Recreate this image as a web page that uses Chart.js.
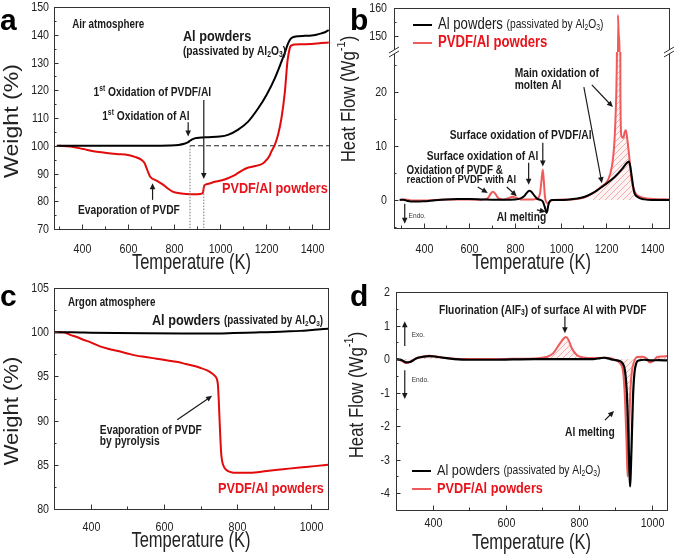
<!DOCTYPE html>
<html><head><meta charset="utf-8">
<script src="https://cdn.jsdelivr.net/npm/chart.js@4.4.1/dist/chart.umd.min.js"></script>
<style>
html,body{margin:0;padding:0;background:#fff;}
#wrap{position:relative;width:675px;height:557px;overflow:hidden;background:#fff;}
canvas{position:absolute;}
</style></head><body>
<div id="wrap">
<canvas id="ca" width="337" height="278" style="left:0;top:0"></canvas>
<canvas id="cb" width="338" height="278" style="left:337px;top:0"></canvas>
<canvas id="cc" width="337" height="279" style="left:0;top:278px"></canvas>
<canvas id="cd" width="338" height="279" style="left:337px;top:278px"></canvas>
</div>
<script>
// ---------- DATA ----------
// (a) TGA in air
const tempA_Al = [290, 400, 500, 600, 700, 780, 820, 845, 860, 872, 885, 900, 920, 950, 1000, 1035, 1078, 1123, 1167, 1203, 1239, 1268, 1285, 1294, 1304, 1312, 1325, 1341, 1370, 1399, 1420, 1442, 1460, 1474];
const weightA_Al = [100, 100, 100, 100, 100, 100.1, 100.3, 100.7, 101.2, 101.9, 102.5, 102.8, 103.0, 103.1, 103.3, 103.9, 105.7, 108.7, 113.5, 118.3, 124.3, 130.3, 134.0, 136.3, 138.0, 138.8, 139.3, 139.5, 139.6, 139.7, 140.0, 140.5, 141.0, 141.7];
const tempA_PVDF = [295, 350, 406, 450, 500, 551, 600, 630, 659, 672, 681, 690, 696, 705, 717, 735, 754, 775, 797, 826, 855, 884, 913, 926, 930, 935, 950, 978, 1005, 1035, 1060, 1078, 1100, 1116, 1145, 1174, 1190, 1203, 1215, 1224, 1239, 1253, 1268, 1283, 1294, 1300, 1306, 1315, 1326, 1360, 1399, 1440, 1474];
const weightA_PVDF = [100, 99.7, 98.8, 98.0, 97.5, 97.0, 96.7, 96.0, 94.9, 93.8, 91.9, 90.0, 88.9, 88.2, 87.7, 86.9, 85.9, 84.5, 83.4, 82.9, 82.6, 82.5, 82.6, 83.0, 85.0, 85.9, 86.3, 87.0, 87.5, 88.3, 89.2, 90.1, 91.2, 91.9, 92.5, 93.1, 93.8, 94.9, 96.2, 97.9, 100.3, 103.9, 109.9, 119.5, 130.3, 133.5, 135.6, 136.3, 136.5, 136.6, 136.7, 137.0, 137.2];
const refLineA_T = [870, 1475];
const refLineA_W = [100, 100];
const xLabelsA = [400, 600, 800, 1000, 1200, 1400];
const yLabelsA = [70, 80, 90, 100, 110, 120, 130, 140, 150];

// (b) DSC in air
const tempB_Al = [295, 310, 330, 360, 400, 450, 500, 550, 600, 650, 700, 750, 800, 825, 840, 852, 862, 872, 885, 898, 912, 922, 930, 935, 938, 942, 946, 952, 962, 1000, 1030, 1062, 1106, 1150, 1194, 1238, 1267, 1289, 1299, 1305, 1311, 1322, 1339, 1368, 1400, 1475];
const heatB_Al = [0, 0.05, -0.2, -0.3, -0.25, -0.05, 0.1, 0.15, 0.15, 0.1, 0.05, 0.05, 0.1, 0.3, 0.7, 1.3, 1.7, 1.5, 0.8, 0.2, 0.0, -0.3, -1.2, -2.0, -2.4, -2.0, -1.0, -0.3, 0, 0, 0.05, 0.2, 0.6, 1.5, 2.8, 4.3, 5.6, 6.8, 7.1, 6.3, 4.6, 1.5, 0.5, 0.1, 0, 0];
const tempB_PVDF = [295, 320, 350, 400, 450, 500, 600, 650, 680, 693, 703, 713, 728, 750, 770, 789, 805, 825, 850, 880, 900, 910, 916, 922, 927, 931, 936, 945, 955, 970, 1050, 1100, 1140, 1179, 1208, 1226, 1235, 1241, 1245, 1248, 1251, 1255, 1259, 1262, 1266, 1275, 1281, 1286, 1291, 1303, 1310, 1325, 1347, 1395, 1475];
const heatB_PVDF = [0, 0.1, -0.1, -0.1, 0.0, 0.1, 0.1, 0.05, 0.3, 1.1, 1.5, 1.2, 0.3, 0.1, 0.3, 0.6, 0.4, 0.1, 0.1, 0.1, 0.3, 1.2, 3.5, 5.6, 3.2, 0.8, -0.3, -0.6, -0.2, 0, 0.1, 0.4, 1.2, 2.5, 3.7, 6.5, 10.2, 15.7, 22, 40, 157.5, 150, 140, 20, 12, 11.5, 12.6, 12.9, 11.7, 7.1, 4.0, 1.5, 0.6, 0.2, 0.1];
const hatchRangeB = [1130, 1340];
const xLabelsB = [400, 600, 800, 1000, 1200, 1400];
const yLabelsBLow = [0, 10, 20];
const yLabelsBHigh = [150, 160];

// (c) TGA in argon
const tempC_Al = [300, 350, 400, 471, 550, 652, 720, 789, 850, 880, 930, 971, 1010, 1048];
const weightC_Al = [100, 100, 99.95, 99.9, 99.87, 99.85, 99.85, 99.9, 99.97, 100, 100.08, 100.15, 100.28, 100.4];
const tempC_PVDF = [300, 316, 330, 344, 362, 380, 400, 425, 450, 471, 500, 525, 550, 580, 610, 634, 660, 680, 700, 716, 727, 734, 740, 744, 747, 750, 753, 756, 759, 763, 770, 780, 790, 834, 880, 925, 970, 1010, 1048];
const weightC_PVDF = [100, 100, 99.95, 99.7, 99.45, 99.15, 98.85, 98.4, 98.1, 97.9, 97.6, 97.35, 97.2, 97.0, 96.8, 96.65, 96.4, 96.2, 95.95, 95.7, 95.45, 95.25, 95.0, 94.7, 94.0, 91.5, 88.5, 86.2, 85.3, 84.8, 84.4, 84.2, 84.1, 84.1, 84.3, 84.5, 84.7, 84.85, 85.0];
const xLabelsC = [400, 600, 800, 1000];
const yLabelsC = [80, 85, 90, 95, 100, 105];

// (d) DSC in argon
const tempD_Al = [300, 315, 328, 340, 355, 370, 392, 410, 429, 460, 500, 560, 620, 680, 740, 800, 840, 860, 870, 880, 895, 910, 920, 927, 932, 936, 939, 941, 943, 946, 949, 953, 958, 965, 980, 1000, 1020, 1042];
const heatD_Al = [0, -0.03, -0.1, -0.08, 0.02, 0.06, 0.09, 0.07, 0.04, 0.0, -0.02, -0.02, -0.01, 0, 0, 0, 0, 0.03, 0.04, 0.02, -0.02, -0.05, -0.12, -0.35, -1.0, -2.2, -3.3, -3.8, -3.3, -2.2, -1.1, -0.4, -0.12, -0.04, -0.02, -0.04, -0.03, -0.04];
const tempD_PVDF = [300, 315, 328, 340, 355, 370, 392, 410, 429, 460, 500, 560, 620, 680, 700, 712, 730, 749, 758, 765, 772, 781, 795, 813, 840, 870, 890, 905, 915, 922, 927, 931, 934, 936, 939, 942, 946, 952, 960, 975, 985, 995, 1005, 1015, 1030, 1042];
const heatD_PVDF = [0, -0.05, -0.12, -0.08, 0.02, 0.07, 0.1, 0.08, 0.04, 0.01, 0, 0, 0.01, 0.02, 0.04, 0.06, 0.17, 0.47, 0.6, 0.66, 0.58, 0.33, 0.12, 0.05, 0.03, 0.04, 0.02, -0.05, -0.15, -0.4, -1.2, -2.4, -3.5, -3.0, -1.8, -0.9, -0.35, -0.08, 0.06, 0.07, 0.03, -0.1, -0.05, 0.06, 0.08, 0.09];
const xLabelsD = [400, 600, 800, 1000];
const yLabelsD = [-4, -3, -2, -1, 0, 1, 2];

// ---------- STYLE ----------
const SANS = "'Liberation Sans',Arial,sans-serif";
const COND = 0.82;               // horizontal condensing of the figure's text
const RED_A = '#e20a0a';
const RED_B = '#ef5a5a';
const RED_TXT = '#e8141c';
const INK = '#1a1a1a';

const pts = (xs, ys) => xs.map((x, i) => ({x, y: ys[i]}));
const P = (t, size, weight, color, sx, fam) => ({t, size, weight: weight || 'normal', color: color || INK, sx: sx === undefined ? COND : sx, fam: fam || SANS});

function hatch(color) {
  const c = document.createElement('canvas'); c.width = 6; c.height = 6;
  const g = c.getContext('2d');
  g.fillStyle = 'rgba(248,200,200,0.22)'; g.fillRect(0, 0, 6, 6);
  g.strokeStyle = color; g.lineWidth = 1;
  g.beginPath();
  g.moveTo(0, 6); g.lineTo(6, 0);
  g.moveTo(-1, 1); g.lineTo(1, -1);
  g.moveTo(5, 7); g.lineTo(7, 5);
  g.stroke();
  return g.createPattern(c, 'repeat');
}

function parseRich(t) {
  const out = []; const re = /([\^_])\{([^}]*)\}/g; let last = 0, m;
  while ((m = re.exec(t))) {
    if (m.index > last) out.push({s: t.slice(last, m.index), mode: 0});
    out.push({s: m[2], mode: m[1] === '^' ? 1 : -1});
    last = re.lastIndex;
  }
  if (last < t.length) out.push({s: t.slice(last), mode: 0});
  return out;
}
function drawRich(ctx, x, y, parts, align, baseline) {
  const pieces = []; let total = 0;
  for (const p of parts) {
    for (const r of parseRich(p.t)) {
      const size = r.mode ? p.size * 0.66 : p.size;
      const font = `${p.weight} ${size}px ${p.fam}`;
      ctx.font = font;
      const w = ctx.measureText(r.s).width * p.sx;
      pieces.push({s: r.s, font, w, sx: p.sx, dy: r.mode === 1 ? -p.size * 0.36 : (r.mode === -1 ? p.size * 0.24 : 0), color: p.color});
      total += w;
    }
  }
  let cx = align === 'center' ? x - total / 2 : (align === 'right' ? x - total : x);
  ctx.textAlign = 'left'; ctx.textBaseline = baseline || 'middle';
  for (const pc of pieces) {
    ctx.save(); ctx.translate(cx, y + pc.dy); ctx.scale(pc.sx, 1);
    ctx.font = pc.font; ctx.fillStyle = pc.color; ctx.fillText(pc.s, 0, 0);
    ctx.restore();
    cx += pc.w;
  }
}
function arrow(ctx, x1, y1, x2, y2, color) {
  const ang = Math.atan2(y2 - y1, x2 - x1), L = 6, W = 2.8;
  ctx.strokeStyle = color; ctx.fillStyle = color; ctx.lineWidth = 1.2; ctx.setLineDash([]);
  ctx.beginPath(); ctx.moveTo(x1, y1); ctx.lineTo(x2 - L * 0.7 * Math.cos(ang), y2 - L * 0.7 * Math.sin(ang)); ctx.stroke();
  ctx.beginPath(); ctx.moveTo(x2, y2);
  ctx.lineTo(x2 - L * Math.cos(ang) + W * Math.sin(ang), y2 - L * Math.sin(ang) - W * Math.cos(ang));
  ctx.lineTo(x2 - L * Math.cos(ang) - W * Math.sin(ang), y2 - L * Math.sin(ang) + W * Math.cos(ang));
  ctx.closePath(); ctx.fill();
}
const near = (list, v) => list.find(l => Math.abs(l - v) < 1e-6);

function makeDecor(spec) {
  return {
    id: 'decor',
    beforeDatasetDraw(chart, args) {
      if (!spec.axisClip) return;
      const ys = chart.scales[args.meta.yAxisID]; const a = chart.chartArea; const ctx = chart.ctx;
      ctx.save(); ctx.beginPath(); ctx.rect(a.left, ys.top, a.right - a.left, ys.bottom - ys.top); ctx.clip();
    },
    afterDatasetDraw(chart) { if (spec.axisClip) chart.ctx.restore(); },
    afterDraw(chart) {
      const ctx = chart.ctx, a = chart.chartArea;
      ctx.save();
      // inward ticks + tick labels
      ctx.strokeStyle = '#333'; ctx.lineWidth = 1; ctx.setLineDash([]);
      ctx.beginPath();
      const labelsToDraw = [];
      for (const id of Object.keys(spec.axes)) {
        const s = chart.scales[id], ax = spec.axes[id];
        for (const t of s.ticks) {
          const lab = near(ax.labels, t.value);
          const len = lab !== undefined ? 4.5 : 2.5;
          if (s.axis === 'x') {
            const px = Math.round(s.getPixelForValue(t.value)) + 0.5;
            ctx.moveTo(px, a.bottom); ctx.lineTo(px, a.bottom - len);
            if (lab !== undefined) labelsToDraw.push([px, a.bottom + ax.off, String(lab), 'center']);
          } else {
            const py = Math.round(s.getPixelForValue(t.value)) + 0.5;
            ctx.moveTo(a.left, py); ctx.lineTo(a.left + len, py);
            if (lab !== undefined) labelsToDraw.push([a.left - ax.pad, py, String(lab), 'right']);
          }
        }
      }
      ctx.stroke();
      for (const [x, y, s, al] of labelsToDraw) drawRich(ctx, x, y, [P(s, 13, 'normal', '#222')], al);
      // frame
      ctx.strokeStyle = '#333';
      ctx.strokeRect(Math.round(a.left) + 0.5, Math.round(a.top) + 0.5, Math.round(a.right - a.left), Math.round(a.bottom - a.top));
      // axis break
      if (spec.breakScale) {
        const y = chart.scales[spec.breakScale].top;
        for (const x of [a.left, a.right]) {
          ctx.fillStyle = '#fff';
          ctx.beginPath(); ctx.moveTo(x - 5, y + 1); ctx.lineTo(x + 5, y - 5); ctx.lineTo(x + 5, y - 1); ctx.lineTo(x - 5, y + 5); ctx.closePath(); ctx.fill();
          ctx.beginPath();
          ctx.moveTo(x - 5, y + 1); ctx.lineTo(x + 5, y - 5);
          ctx.moveTo(x - 5, y + 5); ctx.lineTo(x + 5, y - 1);
          ctx.strokeStyle = '#333'; ctx.stroke();
        }
      }
      const xs = chart.scales.x;
      const toPx = (x, y, axis) => [xs.getPixelForValue(x), chart.scales[axis || 'y'].getPixelForValue(y)];
      for (const g of (spec.guides || [])) {
        const [x1, y1] = toPx(g.x1, g.y1, g.axis), [x2, y2] = toPx(g.x2, g.y2, g.axis);
        ctx.strokeStyle = g.color || '#777'; ctx.lineWidth = g.width || 1; ctx.setLineDash(g.dash || [1.5, 1.5]);
        ctx.beginPath(); ctx.moveTo(x1, y1); ctx.lineTo(x2, y2); ctx.stroke();
      }
      ctx.setLineDash([]);
      for (const ar of (spec.arrows || [])) {
        const [x1, y1] = toPx(ar.x1, ar.y1, ar.axis), [x2, y2] = toPx(ar.x2, ar.y2, ar.axis);
        arrow(ctx, x1, y1, x2, y2, ar.color || INK);
      }
      for (const t of (spec.texts || [])) {
        const [x, y] = toPx(t.x, t.y, t.axis);
        drawRich(ctx, x, y, t.parts, t.align || 'left');
      }
      for (const lg of (spec.legend || [])) {
        ctx.strokeStyle = lg.color; ctx.lineWidth = 2; ctx.setLineDash([]);
        ctx.beginPath(); ctx.moveTo(lg.px, lg.py); ctx.lineTo(lg.px + 19, lg.py); ctx.stroke();
        drawRich(ctx, lg.px + 25, lg.py, lg.parts, 'left');
      }
      // x title, centred on the plot area
      if (spec.xTitle) drawRich(ctx, (a.left + a.right) / 2, spec.xTitle.py, [P(spec.xTitle.text, 22, 'normal', '#222', 0.75)], 'center');
      for (const t of (spec.pxTexts || [])) {
        if (t.rotate) {
          ctx.save(); ctx.translate(t.px, t.py); ctx.rotate(-Math.PI / 2);
          drawRich(ctx, 0, 0, t.parts, 'center'); ctx.restore();
        } else drawRich(ctx, t.px, t.py, t.parts, t.align || 'left', t.baseline);
      }
      ctx.restore();
    }
  };
}

function axis(o) {
  return {
    type: 'linear', position: o.pos, min: o.min, max: o.max,
    stack: o.stack, stackWeight: o.stackWeight,
    grid: {display: false, drawTicks: false},
    border: {display: false},
    ticks: {display: false},
    afterBuildTicks: s => {
      const out = []; const lo = o.tmin !== undefined ? o.tmin : o.min;
      for (let k = Math.ceil(lo / o.step - 1e-9); k * o.step <= o.max + 1e-9; k++) out.push({value: Math.round(k * o.step * 1e6) / 1e6});
      s.ticks = out;
    },
    afterFit: s => { if (o.pos === 'bottom') s.height = o.fit; else s.width = o.fit; },
    title: {display: false}
  };
}
function baseOptions(padding, scales) {
  return {
    responsive: false, animation: false, events: [],
    layout: {padding},
    elements: {point: {radius: 0}, line: {cubicInterpolationMode: 'monotone', borderJoinStyle: 'round'}},
    plugins: {legend: {display: false}, tooltip: {enabled: false}, title: {display: false}},
    scales
  };
}
const HATCH_LINE = 'rgba(236,125,125,0.6)';

// ---------- (a) ----------
new Chart(document.getElementById('ca'), {
  type: 'line',
  data: {datasets: [
    {data: pts(tempA_Al, weightA_Al), borderColor: '#000', borderWidth: 2, fill: false},
    {data: pts(tempA_PVDF, weightA_PVDF), borderColor: RED_A, borderWidth: 2, fill: false},
    {data: pts(refLineA_T, refLineA_W), borderColor: '#222', borderWidth: 1.1, borderDash: [5, 3], fill: false, cubicInterpolationMode: 'default', tension: 0}
  ]},
  options: baseOptions({left: 0, top: 7, right: 8, bottom: 0}, {
    x: axis({pos: 'bottom', min: 278, max: 1475, step: 100, fit: 49}),
    y: axis({pos: 'left', min: 70, max: 150, step: 5, fit: 54})
  }),
  plugins: [makeDecor({
    axes: {x: {labels: xLabelsA, off: 20.5}, y: {labels: yLabelsA, pad: 5}},
    xTitle: {text: 'Temperature (K)', py: 263},
    guides: [{x1: 870, y1: 100, x2: 870, y2: 70}, {x1: 930, y1: 86, x2: 930, y2: 70}],
    arrows: [{x1: 862, y1: 108.5, x2: 862, y2: 103.3}, {x1: 930, y1: 116.5, x2: 930, y2: 88.0}, {x1: 707, y1: 80.5, x2: 707, y2: 86.5}],
    texts: [
      {x: 357, y: 143.5, parts: [P('Air atmosphere', 12, 'bold')]},
      {x: 839, y: 139.2, parts: [P('Al powders', 15.5, 'bold')]},
      {x: 839, y: 133.8, parts: [P('(passivated by Al_{2}O_{3})', 12.5, 'bold')]},
      {x: 706, y: 119, align: 'center', parts: [P('1^{st} Oxidation of PVDF/Al', 12.5, 'bold')]},
      {x: 678, y: 110.4, align: 'center', parts: [P('1^{st} Oxidation of Al', 12.5, 'bold')]},
      {x: 604, y: 76.8, align: 'center', parts: [P('Evaporation of PVDF', 12.5, 'bold')]},
      {x: 1009, y: 84.4, parts: [P('PVDF/Al powders', 15.5, 'bold', RED_TXT)]}
    ],
    pxTexts: [
      {px: 0, py: 30, baseline: 'alphabetic', parts: [P('a', 30, 'bold', '#000', 1)]},
      {px: 12, py: 121, rotate: true, parts: [P('Weight (%)', 21, 'normal', '#222', 1.1)]}
    ]
  })]
});

// ---------- (b) ----------
const redB = pts(tempB_PVDF, heatB_PVDF);
new Chart(document.getElementById('cb'), {
  type: 'line',
  data: {datasets: [
    {data: pts(tempB_Al, heatB_Al), borderColor: '#000', borderWidth: 2, fill: false, yAxisID: 'y'},
    {data: redB, borderColor: RED_B, borderWidth: 2, fill: false, yAxisID: 'y'},
    {data: redB, borderColor: RED_B, borderWidth: 2, fill: false, yAxisID: 'y2'},
    {data: redB.filter(p => p.x >= hatchRangeB[0] && p.x <= hatchRangeB[1]), borderWidth: 0, borderColor: 'rgba(0,0,0,0)', backgroundColor: hatch(HATCH_LINE), fill: 'origin', yAxisID: 'y'}
  ]},
  options: baseOptions({left: 0, top: 8, right: 6, bottom: 0}, {
    x: axis({pos: 'bottom', min: 270, max: 1475, step: 100, fit: 50}),
    y: axis({pos: 'left', min: -5.2, max: 27.4, step: 5, fit: 57, stack: 'hf', stackWeight: 4}),
    y2: axis({pos: 'left', min: 144, max: 160, step: 5, tmin: 150, fit: 57, stack: 'hf', stackWeight: 1})
  }),
  plugins: [makeDecor({
    axisClip: true, breakScale: 'y',
    axes: {x: {labels: xLabelsB, off: 21}, y: {labels: yLabelsBLow, pad: 7}, y2: {labels: yLabelsBHigh, pad: 7}},
    xTitle: {text: 'Temperature (K)', py: 263},
    arrows: [
      {x1: 1137, y1: 21.3, x2: 1229, y2: 17.2}, {x1: 1102, y1: 20.9, x2: 1181, y2: 3.1},
      {x1: 922, y1: 10.6, x2: 922, y2: 6.2}, {x1: 860, y1: 6.9, x2: 860, y2: 2.8},
      {x1: 637, y1: 2.4, x2: 681, y2: 1.3}, {x1: 764, y1: 2.4, x2: 808, y2: 0.7},
      {x1: 896, y1: -1.85, x2: 935, y2: -2.2}, {x1: 317, y1: -0.7, x2: 317, y2: -4.4}
    ],
    texts: [
      {x: 799, y: 23.5, parts: [P('Main oxidation of', 12.5, 'bold')]},
      {x: 799, y: 21.1, parts: [P('molten Al', 12.5, 'bold')]},
      {x: 514, y: 12.0, parts: [P('Surface oxidation of PVDF/Al', 12.5, 'bold')]},
      {x: 413, y: 8.1, parts: [P('Surface oxidation of Al', 12.5, 'bold')]},
      {x: 325, y: 5.4, parts: [P('Oxidation of PVDF &', 12, 'bold')]},
      {x: 325, y: 3.7, parts: [P('reaction of PVDF with Al', 11.5, 'bold')]},
      {x: 720, y: -3.3, parts: [P('Al melting', 12.5, 'bold')]},
      {x: 334, y: -3.0, parts: [P('Endo.', 8, 'normal', '#333')]}
    ],
    legend: [
      {px: 76, py: 25, color: '#000', parts: [P('Al powders ', 16, 'normal'), P('(passivated by Al_{2}O_{3})', 12.5, 'normal')]},
      {px: 76, py: 43, color: RED_B, parts: [P('PVDF/Al powders', 16, 'bold', RED_TXT)]}
    ],
    pxTexts: [
      {px: 13, py: 30, baseline: 'alphabetic', parts: [P('b', 30, 'bold', '#000', 1)]},
      {px: 12, py: 99, rotate: true, parts: [P('Heat Flow (Wg^{-1})', 20, 'normal', '#222', 0.84)]}
    ]
  })]
});

// ---------- (c) ----------
new Chart(document.getElementById('cc'), {
  type: 'line',
  data: {datasets: [
    {data: pts(tempC_Al, weightC_Al), borderColor: '#000', borderWidth: 2, fill: false},
    {data: pts(tempC_PVDF, weightC_PVDF), borderColor: RED_A, borderWidth: 2, fill: false}
  ]},
  options: baseOptions({left: 0, top: 10, right: 9, bottom: 0}, {
    x: axis({pos: 'bottom', min: 300, max: 1047, step: 100, fit: 48}),
    y: axis({pos: 'left', min: 80, max: 105, step: 2.5, fit: 54})
  }),
  plugins: [makeDecor({
    axes: {x: {labels: xLabelsC, off: 18}, y: {labels: yLabelsC, pad: 5}},
    xTitle: {text: 'Temperature (K)', py: 263},
    arrows: [{x1: 636, y1: 90.1, x2: 731, y2: 92.8}],
    texts: [
      {x: 338, y: 103.3, parts: [P('Argon atmosphere', 12, 'bold')]},
      {x: 567, y: 101.3, parts: [P('Al powders ', 15.5, 'bold'), P('(passivated by Al_{2}O_{3})', 12, 'bold')]},
      {x: 425, y: 88.9, parts: [P('Evaporation of PVDF', 12.5, 'bold')]},
      {x: 425, y: 87.6, parts: [P('by pyrolysis', 12.5, 'bold')]},
      {x: 747, y: 82.3, parts: [P('PVDF/Al powders', 15.5, 'bold', RED_TXT)]}
    ],
    pxTexts: [
      {px: 0, py: 28, baseline: 'alphabetic', parts: [P('c', 30, 'bold', '#000', 1)]},
      {px: 12, py: 133, rotate: true, parts: [P('Weight (%)', 21, 'normal', '#222', 1.05)]}
    ]
  })]
});

// ---------- (d) ----------
new Chart(document.getElementById('cd'), {
  type: 'line',
  data: {datasets: [
    {data: pts(tempD_Al, heatD_Al), borderColor: '#000', borderWidth: 2.2, fill: false},
    {data: pts(tempD_PVDF, heatD_PVDF), borderColor: RED_B, borderWidth: 2, fill: 'origin', backgroundColor: hatch(HATCH_LINE)}
  ]},
  options: baseOptions({left: 0, top: 14, right: 8, bottom: 0}, {
    x: axis({pos: 'bottom', min: 300, max: 1042, step: 100, fit: 47}),
    y: axis({pos: 'left', min: -4.5, max: 2, step: 0.5, fit: 59})
  }),
  plugins: [makeDecor({
    axes: {x: {labels: xLabelsD, off: 13}, y: {labels: yLabelsD, pad: 6}},
    xTitle: {text: 'Temperature (K)', py: 265},
    arrows: [
      {x1: 762.5, y1: 1.28, x2: 762.5, y2: 0.77},
      {x1: 324, y1: 0.39, x2: 324, y2: 1.13}, {x1: 324, y1: -0.33, x2: 324, y2: -1.19},
      {x1: 872, y1: -1.82, x2: 897, y2: -1.55}
    ],
    texts: [
      {x: 702, y: 1.46, align: 'center', parts: [P('Fluorination (AlF_{3}) of surface Al with PVDF', 12.5, 'bold')]},
      {x: 343, y: 0.71, parts: [P('Exo.', 8, 'normal', '#333')]},
      {x: 343, y: -0.63, parts: [P('Endo.', 8, 'normal', '#333')]},
      {x: 763, y: -2.2, parts: [P('Al melting', 12.5, 'bold')]}
    ],
    legend: [
      {px: 75, py: 193, color: '#000', parts: [P('Al powders ', 15.5, 'normal'), P('(passivated by Al_{2}O_{3})', 12.5, 'normal')]},
      {px: 75, py: 211, color: RED_B, parts: [P('PVDF/Al powders', 15.5, 'bold', RED_TXT)]}
    ],
    pxTexts: [
      {px: 13, py: 28, baseline: 'alphabetic', parts: [P('d', 30, 'bold', '#000', 1)]},
      {px: 20, py: 117, rotate: true, parts: [P('Heat Flow (Wg^{-1})', 20, 'normal', '#222', 0.84)]}
    ]
  })]
});
</script>
</body></html>
